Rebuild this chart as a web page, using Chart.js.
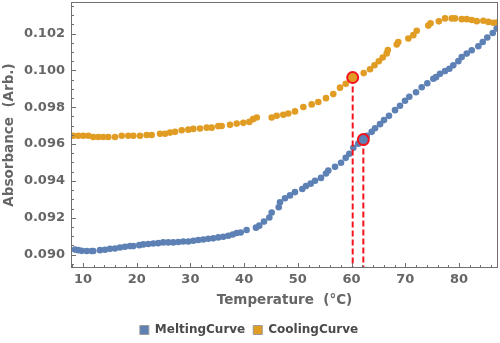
<!DOCTYPE html>
<html>
<head>
<meta charset="utf-8">
<script src="https://cdn.jsdelivr.net/npm/chart.js@4/dist/chart.umd.min.js"></script>
<style>
  body { margin: 0; background: #fff; }
  #courbe { display: block; }
</style>
</head>
<body>
<canvas id="courbe" width="500" height="343"></canvas>
<script>
// Courbe de fusion (chauffage)
const meltTemp = [8.51, 9.12, 9.76, 10.69, 11.62, 11.92, 13.17, 14.10, 15.03, 15.96, 16.89, 17.82, 18.75, 19.37,
  20.48, 21.23, 22.16, 23.09, 24.02, 24.95, 25.88, 26.81, 27.74, 28.67, 29.61, 30.54, 31.47, 32.40, 33.33, 34.26,
  35.19, 36.12, 37.05, 37.87, 38.62, 39.36, 40.46, 42.21, 42.82, 43.70, 44.69, 45.13, 46.44, 46.68, 47.61, 48.54,
  49.47, 50.83, 51.52, 52.39, 53.20, 54.31, 55.24, 55.67, 56.92, 58.04, 58.91, 59.58, 60.33, 61.25, 62.19, 62.82,
  63.75, 64.37, 65.30, 66.04, 66.97, 68.09, 69.02, 69.95, 70.75, 72.00, 73.06, 74.10, 75.22, 75.72, 76.47, 77.40,
  78.20, 78.94, 79.88, 80.51, 81.44, 82.37, 83.60, 84.42, 85.27, 86.28, 87.02];
const meltAbs = [0.09027, 0.09024, 0.09020, 0.09019, 0.09019, 0.09019, 0.09024, 0.09026, 0.09031, 0.09033, 0.09038,
  0.09042, 0.09046, 0.09046, 0.09051, 0.09055, 0.09057, 0.09060, 0.09062, 0.09066, 0.09066, 0.09066, 0.09068, 0.09071,
  0.09071, 0.09075, 0.09079, 0.09082, 0.09086, 0.09088, 0.09093, 0.09097, 0.09102, 0.09109, 0.09117, 0.09120, 0.09133,
  0.09146, 0.09157, 0.09179, 0.09201, 0.09228, 0.09257, 0.09284, 0.09306, 0.09321, 0.09339, 0.09356, 0.09372, 0.09385,
  0.09401, 0.09416, 0.09440, 0.09456, 0.09476, 0.09498, 0.09525, 0.09547, 0.09580, 0.09602, 0.09624, 0.09644, 0.09666,
  0.09686, 0.09708, 0.09730, 0.09753, 0.09784, 0.09808, 0.09835, 0.09857, 0.09881, 0.09908, 0.09930, 0.09954, 0.09963,
  0.09981, 0.09996, 0.10009, 0.10027, 0.10050, 0.10072, 0.10091, 0.10109, 0.10131, 0.10154, 0.10178, 0.10203, 0.10227];

// Courbe de refroidissement
const coolTemp = [8.19, 9.12, 10.06, 10.99, 11.92, 12.85, 13.78, 14.71, 15.96, 17.21, 18.43, 19.37, 20.61, 21.86,
  22.79, 24.34, 25.27, 26.20, 27.13, 28.38, 29.61, 30.54, 31.78, 33.03, 33.96, 35.19, 35.82, 37.37, 38.62, 39.85,
  40.97, 41.66, 42.35, 45.13, 46.06, 47.29, 48.22, 49.47, 51.02, 52.58, 53.81, 55.24, 56.60, 57.85, 58.91, 60.21,
  62.26, 63.44, 64.27, 65.07, 65.80, 66.54, 66.75, 68.41, 68.70, 70.57, 71.50, 72.13, 74.29, 74.70, 76.25, 77.40,
  78.65, 79.26, 80.51, 81.44, 82.37, 83.30, 84.53, 85.46, 86.39, 87.08];
const coolAbs = [0.09645, 0.09645, 0.09645, 0.09645, 0.09638, 0.09638, 0.09638, 0.09638, 0.09638, 0.09645, 0.09645,
  0.09645, 0.09645, 0.09649, 0.09649, 0.09656, 0.09656, 0.09662, 0.09666, 0.09675, 0.09678, 0.09682, 0.09684, 0.09689,
  0.09689, 0.09697, 0.09698, 0.09704, 0.09711, 0.09715, 0.09720, 0.09735, 0.09744, 0.09744, 0.09753, 0.09759, 0.09766,
  0.09777, 0.09801, 0.09815, 0.09828, 0.09849, 0.09871, 0.09906, 0.09927, 0.09961, 0.09985, 0.10006, 0.10028, 0.10049,
  0.10070, 0.10092, 0.10110, 0.10140, 0.10154, 0.10173, 0.10191, 0.10215, 0.10243, 0.10256, 0.10266, 0.10282, 0.10282,
  0.10282, 0.10278, 0.10278, 0.10273, 0.10267, 0.10269, 0.10263, 0.10258, 0.10260];

// Points de transition (refroidissement, fusion)
const markTemp = [60.21, 62.19];
const markAbs = [0.09961, 0.09624];

const xTicks = [10, 20, 30, 40, 50, 60, 70, 80];
const yTicks = [0.090, 0.092, 0.094, 0.096, 0.098, 0.100, 0.102];
const xMin = 7.77, xMax = 87.26;
const yMin = 0.08927, yMax = 0.10371;

const bleu = "#5e81b5";
const orange = "#e19c24";
const rouge = "#f5141e";
const gris = "#666666";

const points = (xs, ys) => xs.map((x, i) => ({ x: x, y: ys[i] }));

// Cadre complet + graduations intérieures (majeures et mineures)
const cadre = {
  id: "cadre",
  afterDraw(chart) {
    const { ctx, chartArea: a, scales: { x, y } } = chart;
    ctx.save();
    ctx.strokeStyle = "#707070";
    ctx.lineWidth = 1;
    ctx.strokeRect(a.left + 0.5, a.top + 0.5, a.right - a.left - 1, a.bottom - a.top - 1);
    ctx.beginPath();
    for (let t = 8; t <= 86; t += 2) {
      const px = Math.round(x.getPixelForValue(t)) + 0.5;
      const len = t % 10 === 0 ? 5 : 3;
      ctx.moveTo(px, a.bottom);
      ctx.lineTo(px, a.bottom - len);
    }
    for (let k = 0; k <= 28; k++) {
      const v = 0.0895 + k * 0.0005;
      const py = Math.round(y.getPixelForValue(v)) + 0.5;
      const len = k % 4 === 1 ? 5 : 3;
      ctx.moveTo(a.left, py);
      ctx.lineTo(a.left + len, py);
    }
    ctx.stroke();
    ctx.restore();
  }
};

const ctx = document.getElementById("courbe");
new Chart(ctx, {
  type: "scatter",
  data: {
    datasets: [
      {
        label: "marques",
        data: points(markTemp, markAbs),
        backgroundColor: [orange, bleu],
        borderColor: rouge,
        borderWidth: 2,
        pointRadius: 5.5,
        order: 0
      },
      {
        label: "repère refroidissement",
        type: "line",
        data: [{ x: markTemp[0], y: markAbs[0] }, { x: markTemp[0], y: yMin }],
        borderColor: rouge,
        borderWidth: 2,
        borderDash: [6, 3],
        pointRadius: 0,
        order: 1
      },
      {
        label: "repère fusion",
        type: "line",
        data: [{ x: markTemp[1], y: markAbs[1] }, { x: markTemp[1], y: yMin }],
        borderColor: rouge,
        borderWidth: 2,
        borderDash: [6, 3],
        pointRadius: 0,
        order: 1
      },
      {
        label: "MeltingCurve",
        data: points(meltTemp, meltAbs),
        backgroundColor: bleu,
        borderColor: bleu,
        borderWidth: 0,
        pointRadius: 3.3,
        order: 2
      },
      {
        label: "CoolingCurve",
        data: points(coolTemp, coolAbs),
        backgroundColor: orange,
        borderColor: orange,
        borderWidth: 0,
        pointRadius: 3.3,
        order: 3
      }
    ]
  },
  options: {
    responsive: false,
    animation: false,
    devicePixelRatio: 1,
    layout: { autoPadding: false, padding: { top: 2, right: 2, left: 0, bottom: -3 } },
    scales: {
      x: {
        type: "linear",
        min: xMin,
        max: xMax,
        afterBuildTicks: s => { s.ticks = xTicks.map(v => ({ value: v })); },
        afterFit: s => { s.height = 48; s.paddingLeft = 0; s.paddingRight = 0; },
        grid: { display: false, drawTicks: false },
        border: { display: false },
        ticks: {
          padding: 4,
          color: gris,
          font: { family: "DejaVu Sans", size: 13, weight: "bold" }
        },
        title: {
          display: true,
          text: "Temperature  (°C)",
          color: gris,
          padding: { top: 0, bottom: 7 },
          font: { family: "DejaVu Sans", size: 13.5, weight: "bold" }
        }
      },
      y: {
        type: "linear",
        min: yMin,
        max: yMax,
        afterBuildTicks: s => { s.ticks = yTicks.map(v => ({ value: v })); },
        afterFit: s => { s.width = 71; s.paddingTop = 0; s.paddingBottom = 0; },
        grid: { display: false, drawTicks: false },
        border: { display: false },
        ticks: {
          padding: 6,
          color: gris,
          font: { family: "DejaVu Sans", size: 13, weight: "bold" },
          callback: v => v.toFixed(3)
        },
        title: {
          display: true,
          text: "Absorbance  (Arb.)",
          color: gris,
          padding: { top: 1, bottom: 0 },
          font: { family: "DejaVu Sans", size: 13.5, weight: "bold" }
        }
      }
    },
    plugins: {
      tooltip: { enabled: false },
      legend: {
        position: "bottom",
        labels: {
          color: "#4a4a4a",
          font: { family: "DejaVu Sans", size: 12, weight: "bold" },
          usePointStyle: true,
          pointStyle: "rect",
          boxWidth: 9,
          boxHeight: 9,
          padding: 8,
          filter: item => item.text === "MeltingCurve" || item.text === "CoolingCurve",
          generateLabels(chart) {
            const items = Chart.defaults.plugins.legend.labels.generateLabels(chart);
            items.forEach(it => {
              it.strokeStyle = "#9a9a9a";
              it.lineWidth = 1;
            });
            return items;
          }
        }
      }
    }
  },
  plugins: [cadre]
});
</script>
</body>
</html>
